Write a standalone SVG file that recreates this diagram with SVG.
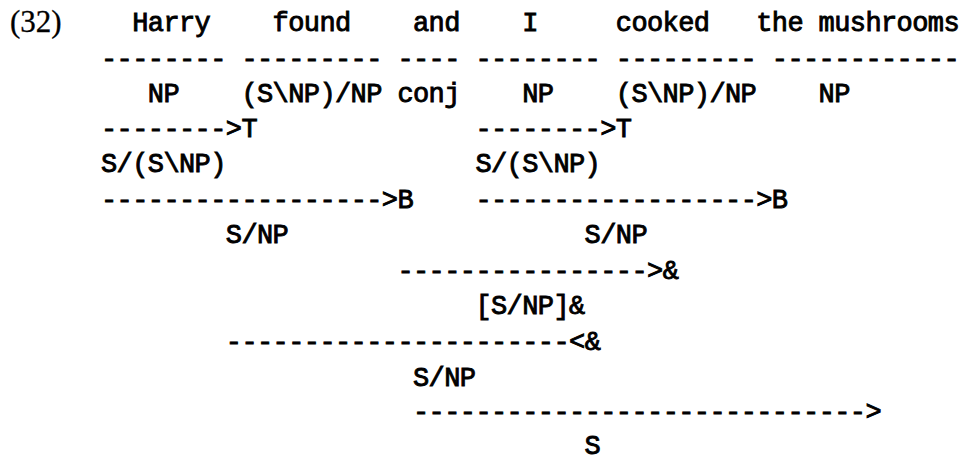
<svg xmlns="http://www.w3.org/2000/svg" width="964" height="464" viewBox="0 0 964 464">
<style>
.t{font-family:"Liberation Mono","Courier New",monospace;font-size:27px;letter-spacing:-0.6px;font-weight:normal;fill:#000;stroke:#000;stroke-width:0.9px}
.n{font-family:"Liberation Serif","Times New Roman",serif;font-size:31px;fill:#000;stroke:#000;stroke-width:0.3px}
</style>
<rect width="964" height="464" fill="#fff"/>
<g id="example-number"><text class="n" x="10" y="32">(32)</text></g>
<g id="words">
<g id="w-harry"><text class="t" x="132.2" y="31">Harry</text></g>
<g id="w-found"><text class="t" x="272.6" y="31">found</text></g>
<g id="w-and"><text class="t" x="413" y="31">and</text></g>
<g id="w-i"><text class="t" x="522.2" y="31">I</text></g>
<g id="w-cooked"><text class="t" x="615.8" y="31">cooked</text></g>
<g id="w-mushrooms"><text class="t" x="756.2" y="31">the mushrooms</text></g>
</g>
<g id="connectors">
<text class="t" x="101" y="67">--------</text>
<text class="t" x="241.4" y="67">---------</text>
<text class="t" x="397.4" y="67">----</text>
<text class="t" x="475.4" y="67">--------</text>
<text class="t" x="615.8" y="67">---------</text>
<text class="t" x="771.8" y="67">------------</text>
<text class="t" x="101" y="137">--------&gt;T</text>
<text class="t" x="475.4" y="137">--------&gt;T</text>
<text class="t" x="101" y="208">------------------&gt;B</text>
<text class="t" x="475.4" y="208">------------------&gt;B</text>
<text class="t" x="397.4" y="279">----------------&gt;&amp;</text>
<text class="t" x="225.8" y="350">----------------------&lt;&amp;</text>
<text class="t" x="413" y="420">-----------------------------&gt;</text>
</g>
<g id="c-np1"><text class="t" x="147.8" y="102">NP</text></g>
<g id="c-found"><text class="t" x="241.4" y="102">(S\NP)/NP</text></g>
<g id="c-conj"><text class="t" x="397.4" y="102">conj</text></g>
<g id="c-np2"><text class="t" x="522.2" y="102">NP</text></g>
<g id="c-cooked"><text class="t" x="615.8" y="102">(S\NP)/NP</text></g>
<g id="c-np3"><text class="t" x="818.6" y="102">NP</text></g>
<g id="c-tr1"><text class="t" x="101" y="172">S/(S\NP)</text></g>
<g id="c-tr2"><text class="t" x="475.4" y="172">S/(S\NP)</text></g>
<g id="c-comp1"><text class="t" x="225.8" y="243">S/NP</text></g>
<g id="c-comp2"><text class="t" x="584.6" y="243">S/NP</text></g>
<g id="c-conjd"><text class="t" x="475.4" y="314">[S/NP]&amp;</text></g>
<g id="c-coord"><text class="t" x="413" y="386">S/NP</text></g>
<g id="c-s"><text class="t" x="584.6" y="454">S</text></g>
</svg>
